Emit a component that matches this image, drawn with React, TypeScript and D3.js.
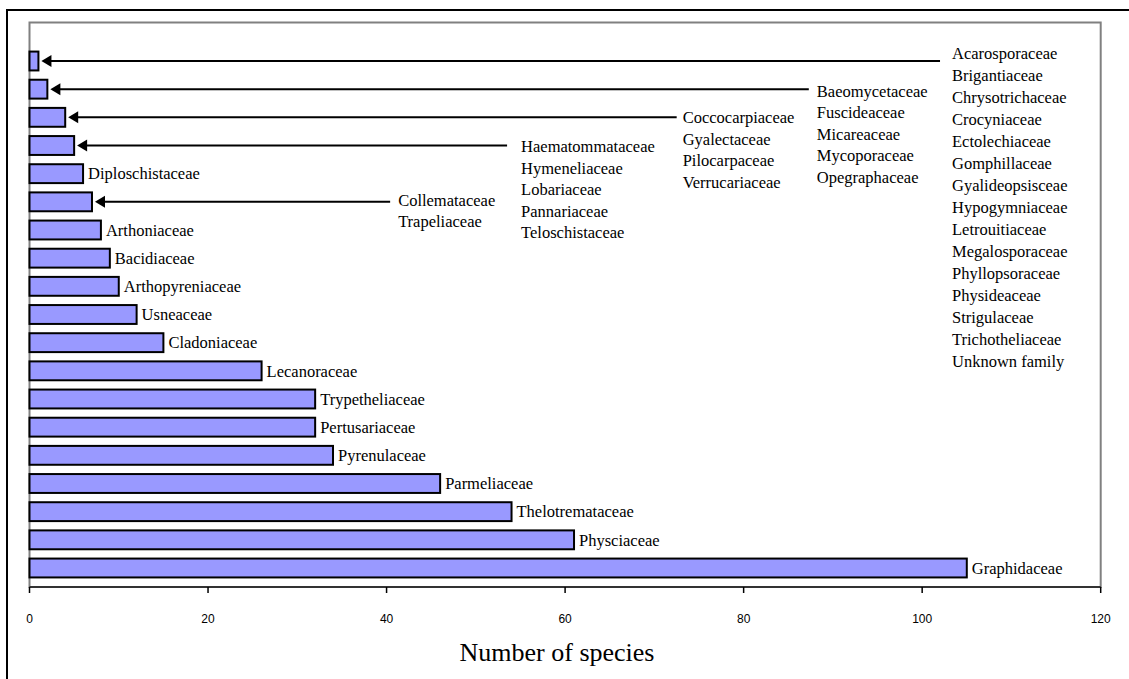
import React from "react";
import * as d3 from "d3";

const rowKeys = ["r1","r2","r3","r4","r5","r6","r7","r8","r9","r10","r11","r12","r13","r14","r15","r16","r17","r18","r19"];
const rowLabels = ["", "", "", "", "Diploschistaceae", "", "Arthoniaceae", "Bacidiaceae", "Arthopyreniaceae", "Usneaceae", "Cladoniaceae", "Lecanoraceae", "Trypetheliaceae", "Pertusariaceae", "Pyrenulaceae", "Parmeliaceae", "Thelotremataceae", "Physciaceae", "Graphidaceae"];
const speciesCounts = [1, 2, 4, 5, 6, 7, 8, 9, 10, 12, 15, 26, 32, 32, 34, 46, 54, 61, 105];
const xTicks = [0, 20, 40, 60, 80, 100, 120];

const groupRows = [0, 1, 2, 3, 5];
const groupLineEnds = [102, 87.3, 72.5, 53.5, 40.4];
const groupA = ["Acarosporaceae", "Brigantiaceae", "Chrysotrichaceae", "Crocyniaceae", "Ectolechiaceae", "Gomphillaceae", "Gyalideopsisceae", "Hypogymniaceae", "Letrouitiaceae", "Megalosporaceae", "Phyllopsoraceae", "Physideaceae", "Strigulaceae", "Trichotheliaceae", "Unknown family"];
const groupB = ["Baeomycetaceae", "Fuscideaceae", "Micareaceae", "Mycoporaceae", "Opegraphaceae"];
const groupC = ["Coccocarpiaceae", "Gyalectaceae", "Pilocarpaceae", "Verrucariaceae"];
const groupD = ["Haematommataceae", "Hymeneliaceae", "Lobariaceae", "Pannariaceae", "Teloschistaceae"];
const groupE = ["Collemataceae", "Trapeliaceae"];
const groupNames = [groupA, groupB, groupC, groupD, groupE];

// layout (pixels)
const textGap = [12, 8, 6, 14, 8];
const textDy = [-8, 2, 0, 1, -2];
const lineSteps = [22, 21.5, 21.5, 21.5, 21.5];

const SERIF = "'Times New Roman', 'Liberation Serif', serif";
const SANS = "Arial, 'Liberation Sans', sans-serif";

export default function App() {
  const W = 1129, H = 679;
  const left = 29.5, right = 1100.7, top = 22.5, bottom = 587;
  const x = d3.scaleLinear().domain([0, 120]).range([left, right]);
  const pad = 0.33;
  const y = d3.scaleBand<string>().domain(rowKeys).range([61 - 14.08, 568 + 14.08]).paddingInner(pad).paddingOuter(pad / 2);
  const bw = y.bandwidth();

  return (
    <svg width={W} height={H} style={{ position: "absolute", left: 0, top: 0, background: "#fff" }}>
      <rect x={7} y={10} width={1140} height={700} fill="none" stroke="#000" strokeWidth={2} />
      <rect x={left} y={top} width={right - left} height={bottom - top} fill="none" stroke="#808080" strokeWidth={2} />
      {speciesCounts.map((v, i) => {
        const yy = y(rowKeys[i])!;
        return (
          <g key={i}>
            <rect x={x(0)} y={yy} width={x(v) - x(0)} height={bw} fill="#9999FF" stroke="#000" strokeWidth={2} />
            {rowLabels[i] && (
              <text x={x(v) + 5} y={yy + bw / 2} dy="0.35em" fontFamily={SERIF} fontSize={16.5} fill="#000">{rowLabels[i]}</text>
            )}
          </g>
        );
      })}
      {groupRows.map((r, gi) => {
        const cy = y(rowKeys[r])! + bw / 2;
        const tip = x(speciesCounts[r]) + 3;
        const end = x(groupLineEnds[gi]);
        return (
          <g key={"g" + gi}>
            <line x1={tip + 8} x2={end} y1={cy} y2={cy} stroke="#000" strokeWidth={2} />
            <path d={`M${tip},${cy} L${tip + 10},${cy - 6} L${tip + 10},${cy + 6} Z`} fill="#000" />
            {groupNames[gi].map((n, k) => (
              <text key={k} x={end + textGap[gi]} y={cy + textDy[gi] + k * lineSteps[gi]} dy="0.35em" fontFamily={SERIF} fontSize={16.5} fill="#000">{n}</text>
            ))}
          </g>
        );
      })}
      <line x1={left} x2={right} y1={bottom} y2={bottom} stroke="#333" strokeWidth={2} />
      {xTicks.map((t) => (
        <g key={"t" + t}>
          <line x1={x(t)} x2={x(t)} y1={bottom} y2={bottom + 6} stroke="#000" strokeWidth={1.5} />
          <text x={x(t)} y={623} textAnchor="middle" fontFamily={SANS} fontSize={12} fill="#000">{t}</text>
        </g>
      ))}
      <text x={557} y={661} textAnchor="middle" fontFamily={SERIF} fontSize={26} fill="#000">Number of species</text>
    </svg>
  );
}
